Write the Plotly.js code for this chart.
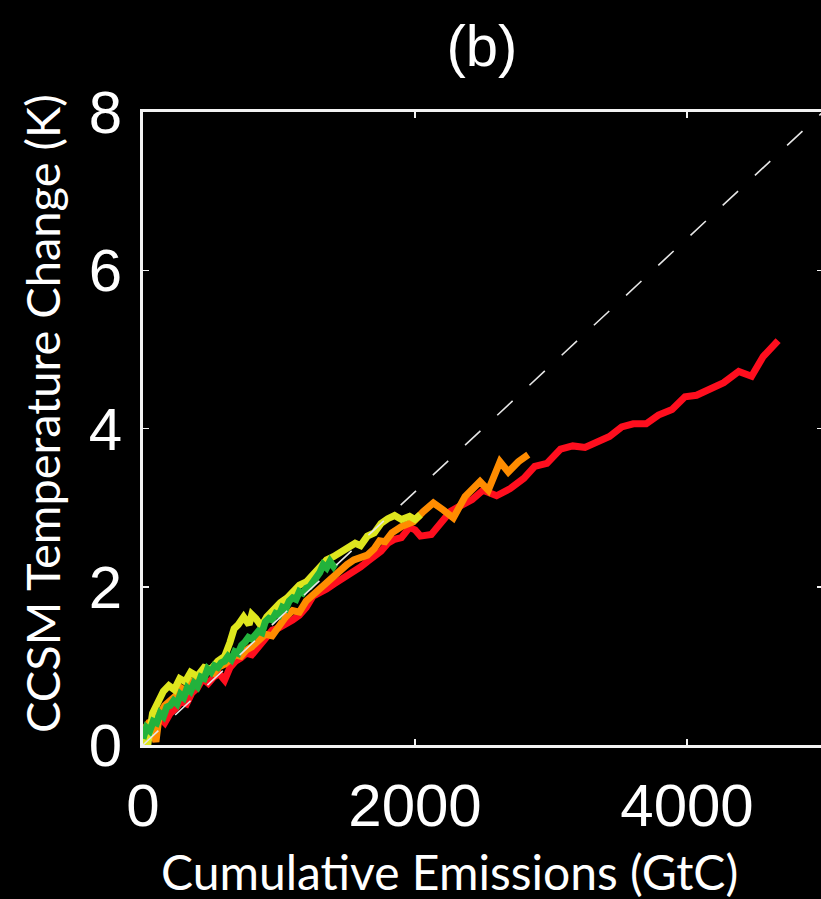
<!DOCTYPE html>
<html>
<head>
<meta charset="utf-8">
<script src="https://cdn.plot.ly/plotly-3.0.1.min.js"></script>
<style>
  html, body { margin: 0; padding: 0; background: #000; overflow: hidden; }
  #chart { width: 823px; height: 899px; }
</style>
</head>
<body>
<div id="chart"></div>
<script>
// Cumulative emissions (GtC) and CCSM warming (K) for each emission pathway
const redEmis = [0, 40, 80, 120, 160, 200, 240, 280, 320, 360, 400, 440, 480, 520, 560, 600, 640, 680, 720, 760, 800, 850, 900, 950, 1000, 1050, 1100, 1150, 1200, 1250, 1300, 1350, 1400, 1450, 1500, 1550, 1600, 1650, 1700, 1750, 1800, 1850, 1900, 1960, 2000, 2040, 2120, 2200, 2260, 2320, 2420, 2500, 2600, 2700, 2800, 2880, 2970, 3070, 3160, 3250, 3350, 3430, 3520, 3605, 3700, 3790, 3890, 3985, 4070, 4170, 4270, 4380, 4475, 4560, 4670];
const redTemp = [0.10, 0.25, 0.20, 0.35, 0.28, 0.40, 0.46, 0.55, 0.52, 0.66, 0.72, 0.84, 0.78, 0.86, 0.90, 0.82, 0.98, 1.06, 1.10, 1.16, 1.14, 1.24, 1.35, 1.45, 1.48, 1.52, 1.58, 1.64, 1.74, 1.88, 1.92, 1.97, 2.03, 2.08, 2.14, 2.18, 2.25, 2.32, 2.38, 2.45, 2.55, 2.60, 2.62, 2.75, 2.72, 2.64, 2.66, 2.84, 2.95, 3.01, 3.10, 3.22, 3.15, 3.24, 3.37, 3.52, 3.56, 3.74, 3.78, 3.76, 3.83, 3.90, 4.02, 4.06, 4.06, 4.17, 4.24, 4.40, 4.42, 4.49, 4.58, 4.72, 4.66, 4.91, 5.11];

const orangeEmis = [0, 50, 95, 120, 160, 200, 240, 280, 320, 360, 400, 440, 480, 520, 560, 600, 640, 680, 720, 760, 800, 850, 900, 950, 1000, 1050, 1100, 1150, 1200, 1250, 1300, 1350, 1400, 1450, 1500, 1550, 1600, 1650, 1700, 1740, 1780, 1830, 1900, 1988, 2061, 2135, 2208, 2282, 2368, 2478, 2539, 2625, 2686, 2760, 2833];
const orangeTemp = [0.18, 0.30, 0.04, 0.38, 0.50, 0.55, 0.62, 0.72, 0.68, 0.80, 0.86, 0.90, 0.95, 0.91, 0.99, 1.02, 1.08, 1.14, 1.12, 1.20, 1.24, 1.33, 1.40, 1.38, 1.52, 1.62, 1.70, 1.68, 1.82, 1.90, 1.98, 2.05, 2.12, 2.21, 2.28, 2.34, 2.36, 2.40, 2.48, 2.58, 2.57, 2.68, 2.76, 2.82, 2.95, 3.06, 2.97, 2.87, 3.14, 3.33, 3.22, 3.58, 3.45, 3.58, 3.67];

const yellowEmis = [0, 35, 70, 110, 150, 190, 230, 270, 310, 350, 400, 450, 500, 550, 600, 640, 670, 700, 740, 780, 800, 830, 870, 910, 960, 1010, 1060, 1100, 1150, 1200, 1250, 1300, 1350, 1400, 1450, 1500, 1560, 1600, 1650, 1700, 1750, 1800, 1850, 1900, 1960, 2000, 2040];
const yellowTemp = [0.10, 0.00, 0.40, 0.55, 0.68, 0.75, 0.70, 0.84, 0.80, 0.92, 0.87, 0.98, 0.96, 1.06, 1.12, 1.30, 1.47, 1.52, 1.62, 1.52, 1.65, 1.60, 1.50, 1.62, 1.72, 1.80, 1.86, 1.92, 2.02, 2.06, 2.16, 2.25, 2.34, 2.38, 2.44, 2.48, 2.55, 2.52, 2.64, 2.68, 2.80, 2.86, 2.90, 2.85, 2.89, 2.85, 2.91];

const greenEmis = [0, 25, 50, 75, 100, 125, 150, 175, 200, 225, 250, 275, 300, 325, 350, 375, 400, 425, 450, 475, 500, 525, 550, 575, 600, 625, 650, 675, 700, 725, 750, 775, 800, 825, 850, 875, 900, 925, 950, 975, 1000, 1025, 1050, 1075, 1100, 1125, 1150, 1175, 1200, 1225, 1250, 1275, 1300, 1325, 1350, 1375, 1400, 1415];
const greenTemp = [0.08, 0.22, 0.18, 0.30, 0.28, 0.40, 0.36, 0.48, 0.50, 0.56, 0.52, 0.64, 0.60, 0.72, 0.68, 0.78, 0.74, 0.86, 0.84, 0.96, 0.92, 1.00, 0.98, 1.04, 1.06, 1.12, 1.08, 1.18, 1.16, 1.26, 1.30, 1.36, 1.34, 1.40, 1.44, 1.42, 1.56, 1.60, 1.58, 1.66, 1.64, 1.74, 1.72, 1.82, 1.86, 1.84, 1.94, 1.92, 1.98, 2.00, 2.06, 2.12, 2.18, 2.28, 2.24, 2.32, 2.26, 2.30];

// Proportional reference line: warming per cumulative emission
const refEmis = [0, 5000];
const refTemp = [0, 8];

const xTicks = [0, 2000, 4000];
const yTicks = [0, 2, 4, 6, 8];

const tickFont = { family: 'Liberation Sans, Arial, sans-serif', size: 60, color: '#ffffff' };
const labelFont = { family: 'Lato, sans-serif', size: 48, color: '#ffffff' };

function pathway(x, y, color) {
  return {
    x: x, y: y, type: 'scatter', mode: 'lines',
    line: { color: color, width: 7 },
    hoverinfo: 'skip', showlegend: false
  };
}

const traces = [
  pathway(redEmis, redTemp, 'rgb(255,14,30)'),
  pathway(orangeEmis, orangeTemp, 'rgb(255,140,0)'),
  pathway(yellowEmis, yellowTemp, 'rgb(222,230,30)'),
  pathway(greenEmis, greenTemp, 'rgb(34,178,60)'),
  {
    x: refEmis, y: refTemp, type: 'scatter', mode: 'lines',
    line: { color: '#e6e6e6', width: 1.6, dash: '21px,23px' },
    hoverinfo: 'skip', showlegend: false
  }
];

const axisCommon = {
  showgrid: false, zeroline: false,
  showline: true, linecolor: '#f2f2f2', linewidth: 3, mirror: 'ticks',
  ticks: 'inside', ticklen: 6, tickwidth: 1.5, tickcolor: '#f2f2f2',
  tickfont: tickFont, fixedrange: true
};

const layout = {
  width: 823, height: 899,
  paper_bgcolor: '#000000', plot_bgcolor: '#000000',
  margin: { l: 143, r: 0, t: 112, b: 154 },
  title: {
    text: '(b)', font: { family: 'Liberation Sans, Arial, sans-serif', size: 58, color: '#ffffff' },
    xref: 'container', yref: 'container', x: 482 / 823, y: 1 - 46 / 899,
    xanchor: 'center', yanchor: 'middle'
  },
  xaxis: Object.assign({}, axisCommon, {
    range: [0, 5000], tickmode: 'array', tickvals: xTicks, ticktext: xTicks.map(String),
    ticklabelstandoff: 6
  }),
  yaxis: Object.assign({}, axisCommon, {
    range: [0, 8], tickmode: 'array', tickvals: yTicks, ticktext: yTicks.map(String),
    ticklabelstandoff: 6
  }),
  annotations: [
    {
      text: 'Cumulative Emissions (GtC)', font: labelFont, showarrow: false,
      xref: 'paper', yref: 'paper', x: (449 - 143) / 680, y: -(871 - 745) / 633,
      xanchor: 'center', yanchor: 'middle'
    },
    {
      text: 'CCSM Temperature Change (K)', font: Object.assign({}, labelFont, { size: 47 }), showarrow: false, textangle: -90,
      xref: 'paper', yref: 'paper', x: -(143 - 42) / 680, y: (745 - 414) / 633,
      xanchor: 'center', yanchor: 'middle'
    }
  ]
};

Plotly.newPlot('chart', traces, layout, { staticPlot: true, displayModeBar: false });
</script>
</body>
</html>
